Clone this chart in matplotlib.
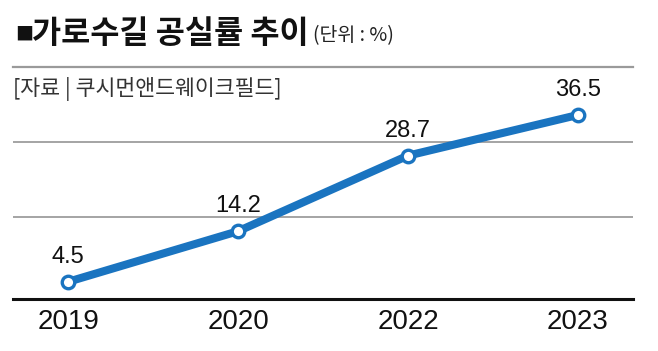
import matplotlib
matplotlib.use("Agg")
import matplotlib.pyplot as plt

# 데이터
years = ["2019", "2020", "2022", "2023"]
vacancy = [4.5, 14.2, 28.7, 36.5]
value_labels = ["4.5", "14.2", "28.7", "36.5"]

title = "가로수길 공실률 추이"
unit = "(단위 : %)"
source = "[자료 | 쿠시먼앤드웨이크필드]"

blue = "#1a74c0"
kr = ["Noto Sans CJK KR", "DejaVu Sans"]
num = ["Liberation Sans Narrow", "Liberation Sans", "DejaVu Sans"]

plt.rcParams["font.family"] = kr

fig = plt.figure(figsize=(6.58, 3.51), dpi=100)
W, H = 658, 351

# 축 영역 (픽셀 기준 배치)
left, right, bottom, top = 13, 633, 299, 67
ax = fig.add_axes([left / W, 1 - bottom / H, (right - left) / W, (bottom - top) / H])

x = list(range(len(years)))
ax.plot(x, vacancy, color=blue, lw=5.8, solid_capstyle="round", zorder=3,
        marker="o", markersize=9, markerfacecolor="white",
        markeredgecolor=blue, markeredgewidth=2.4)

for xi, v, lab in zip(x, vacancy, value_labels):
    ax.annotate(lab, (xi, v), xytext=(0, 18), textcoords="offset points",
                ha="center", va="center", fontsize=17, family=num, color="#111111")

ax.set_xlim(-0.324, 3.324)
ax.set_ylim(1.2, 45.7)
ax.set_yticks([16.9, 31.3])
ax.grid(axis="y", color="#8c8c8c", lw=1.1)
ax.tick_params(axis="y", left=False, labelleft=False)
ax.set_xticks(x)
ax.set_xticklabels(years, fontsize=20, family=num, color="#111111")
ax.tick_params(axis="x", length=0, pad=7)

for s in ["left", "right"]:
    ax.spines[s].set_visible(False)
ax.spines["top"].set_color("#9a9a9a")
ax.spines["top"].set_linewidth(1.6)
ax.spines["bottom"].set_color("#111111")
ax.spines["bottom"].set_linewidth(2.2)

# 제목
fig.text(15 / W, 1 - 35 / H, "■", fontsize=13, va="center", ha="left", color="#111111")
fig.text(32 / W, 1 - 34 / H, title, fontsize=22.8, fontweight="bold",
         va="center", ha="left", color="#111111")
fig.text(313 / W, 1 - 36 / H, unit, fontsize=14, fontweight="light",
         va="center", ha="left", color="#222222")
fig.text(13 / W, 1 - 89 / H, source, fontsize=15.6, fontweight="light",
         va="center", ha="left", color="#333333")

fig.savefig("out.png", dpi=100, facecolor="white")
